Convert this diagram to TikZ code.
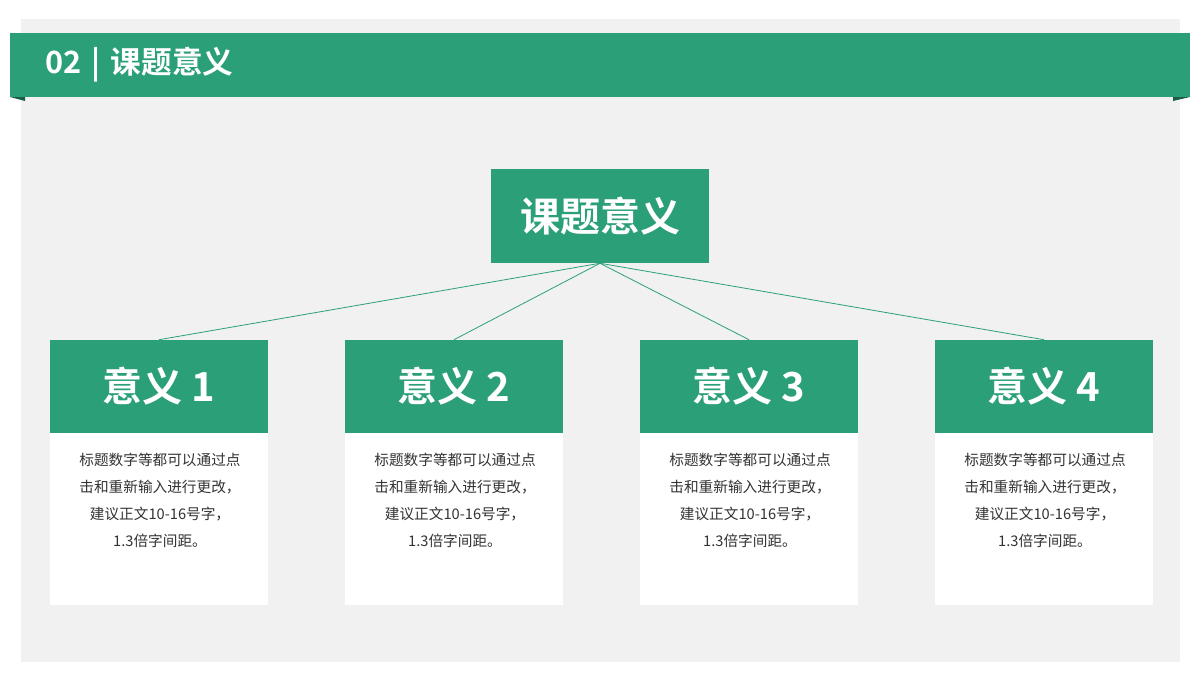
\documentclass[tikz,border=0pt]{standalone}
\usepackage{fontspec}
\newfontfamily\cjk{Noto Sans CJK SC}[BoldFont={Noto Sans CJK SC Bold}]
\definecolor{brandgreen}{HTML}{2BA078}
\definecolor{folddark}{HTML}{1B5E45}
\definecolor{panelgray}{HTML}{F1F1F1}
\definecolor{bodytext}{HTML}{333333}
\tikzset{
  x=0.75pt, y=-0.75pt,
  headbox/.style={fill=brandgreen, draw=none, minimum width=163.5pt, minimum height=69.75pt, inner sep=0pt, text=white, font=\cjk\bfseries\fontsize{30}{34}\selectfont},
  bodybox/.style={fill=white, draw=none, minimum width=163.5pt, minimum height=129pt, inner sep=0pt},
  bodytxt/.style={text=bodytext, align=center, font=\cjk\fontsize{11}{20.25}\selectfont},
  link/.style={draw=brandgreen, line width=0.6pt},
}
\begin{document}
\begin{tikzpicture}
\useasboundingbox (0,0) rectangle (1200,680);
\fill[white] (0,0) rectangle (1200,680);
\fill[panelgray] (21,19) rectangle (1180,662);
% banner folds
\fill[folddark] (10,97) -- (25,97) -- (25,101) -- cycle;
\fill[folddark] (1190,97) -- (1173,97) -- (1173,101) -- cycle;
\fill[brandgreen] (10,33) rectangle (1190,97);
\node[anchor=west, text=white, font=\cjk\bfseries\fontsize{23}{27}\selectfont, inner sep=0pt] (title) at (45,65) {02\,\,|\,\,课题意义};
% central node
\node[fill=brandgreen, minimum width=163.5pt, minimum height=70.5pt, inner sep=0pt, text=white, font=\cjk\bfseries\fontsize{30}{34}\selectfont] (root) at (600,216) {课题意义};
% children
\foreach \i/\cx in {1/159, 2/454, 3/749, 4/1044} {
  \node[bodybox] (b\i) at (\cx,519) {};
  \node[headbox] (h\i) at (\cx,386.5) {意义 \i};
  \node[bodytxt] (t\i) at (\cx+1,500) {标题数字等都可以通过点\\击和重新输入进行更改，\\建议正文10-16号字，\\1.3倍字间距。};
  \draw[link] (root.south) -- (h\i.north);
}
\end{tikzpicture}
\end{document}
